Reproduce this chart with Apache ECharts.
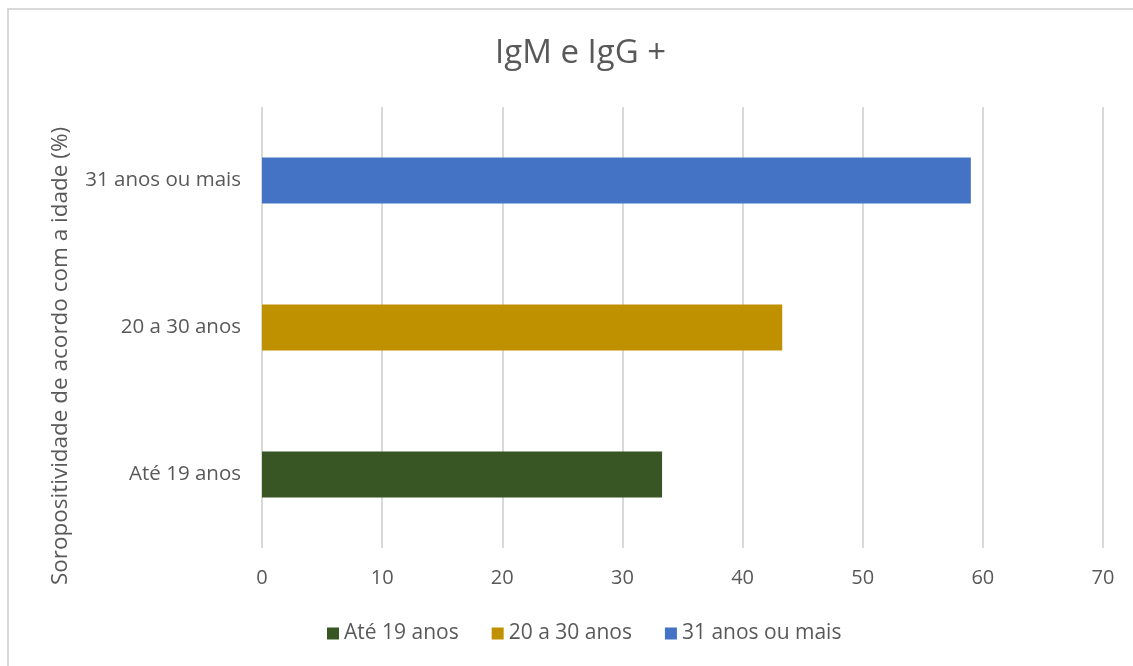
<!DOCTYPE html>
<html>
<head>
<meta charset="utf-8">
<script src="https://cdn.jsdelivr.net/npm/echarts@6/dist/echarts.min.js"></script>
<style>
  html, body { margin: 0; padding: 0; background: #ffffff; }
  #frame { position: absolute; left: 7px; top: 8px; width: 1126px; height: 658px;
           border-top: 2px solid #d9d9d9; border-left: 2px solid #d9d9d9; box-sizing: border-box; }
  #chart { position: absolute; left: 0; top: 0; width: 1133px; height: 666px; }
</style>
</head>
<body>
<div id="frame"></div>
<div id="chart"></div>
<script>
// Age groups (bottom to top) and seropositivity values in %
const categories = ['Até 19 anos', '20 a 30 anos', '31 anos ou mais'];
const seriesNames = ['Até 19 anos', '20 a 30 anos', '31 anos ou mais'];
const values = [33.3, 43.3, 59.0];
const colors = ['#375623', '#BF9000', '#4472C4'];
const xTicks = { min: 0, max: 70, interval: 10 };

const FONT = '"Open Sans", "Noto Sans", sans-serif';

// One series per age group so each gets its own legend entry; stacking keeps bars centred
const series = seriesNames.map((name, i) => ({
  name: name,
  type: 'bar',
  stack: 'all',
  barWidth: 46,
  itemStyle: { color: colors[i] },
  data: categories.map((c, j) => (j === i ? values[i] : '-'))
}));

const chart = echarts.init(document.getElementById('chart'), null, { renderer: 'canvas' });
chart.setOption({
  backgroundColor: 'transparent',
  animation: false,
  color: colors,
  title: {
    text: 'IgM e IgG +',
    left: 490,
    top: 32,
    textStyle: { fontFamily: FONT, fontSize: 33, fontWeight: 'normal', color: '#595959' }
  },
  legend: {
    bottom: 17,
    left: 322,
    itemWidth: 12,
    itemHeight: 12,
    itemGap: 33,
    icon: 'rect',
    textStyle: { fontFamily: FONT, fontSize: 21, color: '#595959' },
    data: seriesNames
  },
  grid: { left: 262, right: 30, top: 107, bottom: 118 },
  xAxis: {
    type: 'value',
    min: xTicks.min,
    max: xTicks.max,
    interval: xTicks.interval,
    axisLine: { show: false },
    axisTick: { show: false },
    axisLabel: { margin: 20, fontFamily: FONT, fontSize: 20, color: '#595959' },
    splitLine: { lineStyle: { color: '#d9d9d9', width: 2 } }
  },
  yAxis: {
    type: 'category',
    data: categories,
    axisLine: { show: false },
    axisTick: { show: false },
    axisLabel: { margin: 21, fontFamily: FONT, fontSize: 20.5, color: '#595959' }
  },
  graphic: [{
    type: 'text',
    x: 61,
    y: 356,
    rotation: Math.PI / 2,
    style: {
      text: 'Soropositividade de acordo com a idade (%)',
      font: '22.5px ' + FONT,
      fill: '#595959',
      textAlign: 'center',
      textVerticalAlign: 'middle'
    }
  }],
  series: series
});
</script>
</body>
</html>
